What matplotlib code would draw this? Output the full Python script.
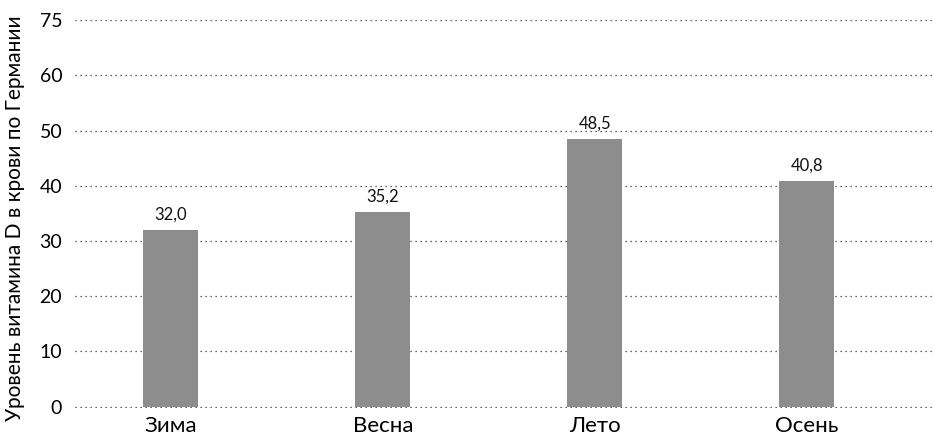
import matplotlib

matplotlib.use("Agg")
import matplotlib.pyplot as plt
import numpy as np

seasons = ["Зима", "Весна", "Лето", "Осень"]
levels = [32.0, 35.2, 48.5, 40.8]
value_labels = ["32,0", "35,2", "48,5", "40,8"]
y_ticks = [0, 10, 20, 30, 40, 50, 60, 70]
y_tick_labels = ["0", "10", "20", "30", "40", "50", "60", "75"]

plt.rcParams["font.family"] = ["Lato", "DejaVu Sans"]

fig = plt.figure(figsize=(9.34, 4.37), dpi=100)
ax = fig.add_axes([0.080, 0.066, 0.920, 0.888])

x = np.arange(len(seasons))
bars = ax.bar(x, levels, width=0.26, color="#8d8d8d", zorder=3)
for b, lab in zip(bars, value_labels):
    ax.text(b.get_x() + b.get_width() / 2, b.get_height() + 1.3, lab,
            ha="center", va="bottom", fontsize=12, color="#111111")

ax.set_xlim(-0.453, 3.6)
ax.set_ylim(-0.3, 70)
ax.set_yticks(y_ticks)
ax.set_yticklabels(y_tick_labels, fontsize=14)
ax.set_xticks(x)
ax.set_xticklabels(seasons, fontsize=16)
ax.yaxis.grid(True, linestyle=(0, (1, 3)), color="#333333", linewidth=0.9)
ax.set_axisbelow(True)
for s in ax.spines.values():
    s.set_visible(False)
ax.tick_params(axis="y", length=0, pad=9)
ax.tick_params(axis="x", length=0, pad=6)
ax.set_ylabel("Уровень витамина D в крови по Германии", fontsize=15)
ax.yaxis.set_label_coords(-0.058, 0.49)

fig.savefig("out.png", dpi=100)
